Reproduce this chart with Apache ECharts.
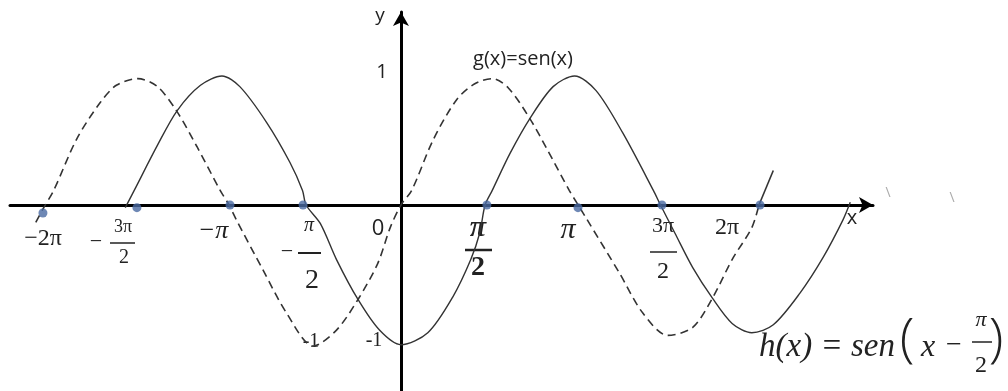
<!DOCTYPE html>
<html>
<head>
<meta charset="utf-8">
<script src="https://cdn.jsdelivr.net/npm/echarts@6/dist/echarts.min.js"></script>
<style>
html, body { margin: 0; padding: 0; background: #fff; }
#main { width: 1008px; height: 391px; }
</style>
</head>
<body>
<div id="main"></div>
<script>
// x in multiples of π, y in function units
var gX = [-2.04, -2.0, -1.94, -1.81, -1.68, -1.59, -1.47, -1.36, -1.25, -1.14, -1.01, -0.96, -0.92,
          -0.77, -0.64, -0.49, -0.36, -0.24, -0.13, -0.06, 0, 0.06, 0.18, 0.31, 0.41, 0.51, 0.60, 0.72,
          0.82, 0.94, 0.99, 1.04, 1.22, 1.35, 1.49, 1.63, 1.74, 1.85, 1.96, 2.0];
var gY = [-0.13, -0.03, 0.11, 0.50, 0.77, 0.90, 0.95, 0.89, 0.70, 0.44, 0.11, 0, -0.11,
          -0.49, -0.81, -1.06, -0.94, -0.71, -0.44, -0.17, 0, 0.11, 0.49, 0.79, 0.91, 0.95, 0.88, 0.65,
          0.41, 0.11, 0, -0.11, -0.51, -0.81, -0.98, -0.92, -0.70, -0.41, -0.17, 0];

var tailX = [2.0, 2.08];
var tailY = [0, 0.26];

var hX = [-1.54, -1.49, -1.36, -1.25, -1.12, -1.0, -0.90, -0.75, -0.62, -0.55, -0.53, -0.45, -0.36,
          -0.24, -0.12, 0, 0.15, 0.29, 0.39, 0.44, 0.47, 0.51, 0.61, 0.72, 0.85, 0.97, 1.09, 1.24,
          1.41, 1.45, 1.53, 1.63, 1.74, 1.85, 1.96, 2.08, 2.23, 2.36, 2.47, 2.51];
var hY = [-0.02, 0.11, 0.45, 0.71, 0.90, 0.97, 0.89, 0.62, 0.32, 0.11, 0, -0.14, -0.41,
          -0.71, -0.94, -1.05, -0.96, -0.69, -0.41, -0.21, 0, 0.11, 0.39, 0.65, 0.89, 0.97, 0.86, 0.54,
          0.11, 0, -0.21, -0.47, -0.70, -0.89, -0.96, -0.90, -0.66, -0.39, -0.11, 0.02];

// marked points on the x axis: -2π, -3π/2, -π, -π/2, π/2, π, 3π/2, 2π
var dotX = [-2.0, -1.475, -0.955, -0.547, 0.48, 0.989, 1.458, 2.006];
var dotY = [-0.06, -0.02, 0, 0, 0, -0.02, 0, 0];

function pairs(xs, ys) {
    return xs.map(function (x, i) { return [x, ys[i]]; });
}

var myChart = echarts.init(document.getElementById('main'));

var serif = '"Liberation Serif", "DejaVu Serif", serif';
var sans = '"Open Sans", "Liberation Sans", sans-serif';
var ink = '#222';

function txt(s, x, y, font, align) {
    return {
        type: 'text', x: x, y: y, silent: true,
        style: { text: s, font: font, fill: ink, align: align || 'center', verticalAlign: 'middle' }
    };
}
function bar(x1, x2, y, w) {
    return {
        type: 'rect', silent: true,
        shape: { x: x1, y: y - (w || 1.5) / 2, width: x2 - x1, height: w || 1.5 },
        style: { fill: ink }
    };
}

var labels = [
    txt('−2π', 43, 239, '24px ' + serif),
    txt('−', 96, 242, '22px ' + serif),
    txt('3π', 123, 227, '18px ' + serif),
    bar(110, 135, 243),
    txt('2', 124, 258, '20px ' + serif),
    txt('−π', 213, 231, 'italic 26px ' + serif),
    txt('π', 309, 226, 'italic 20px ' + serif),
    txt('−', 287, 252, '22px ' + serif),
    bar(298, 321, 253, 2),
    txt('2', 312, 281, '28px ' + serif),
    txt('0', 378, 229, '22px ' + sans),
    txt('π', 478, 228, 'italic bold 30px ' + serif),
    bar(465, 492, 250, 2.5),
    txt('2', 478, 268, 'bold 28px ' + serif),
    txt('π', 568, 230, 'italic 30px ' + serif),
    txt('3π', 663, 226, '22px ' + serif),
    bar(650, 677, 252),
    txt('2', 663, 272, '24px ' + serif),
    txt('2π', 727, 228, '24px ' + serif),
    txt('x', 852, 218, '20px ' + sans),
    txt('y', 380, 16, '19px ' + sans),
    txt('1', 382, 72, '20px ' + sans),
    txt('-1', 374, 341, '20px ' + serif),
    txt('-1', 311, 342, '20px ' + serif),
    txt('g(x)=sen(x)', 523, 59, '20px ' + sans),
    txt('h(x) = sen', 759, 347, 'italic 33px ' + serif, 'left'),
    txt('(', 907, 341, '300 54px ' + sans),
    txt('x', 928, 348, 'italic 32px ' + serif),
    txt('−', 954, 346, '28px ' + serif),
    txt('π', 981, 320, 'italic 22px ' + serif),
    bar(972, 992, 342),
    txt('2', 981, 366, '24px ' + serif),
    txt(')', 996, 341, '300 54px ' + sans),
    txt('\\', 888, 193, '14px ' + sans),
    txt('\\', 952, 198, '14px ' + sans)
];
// stray specks are lighter than the rest
labels[labels.length - 1].style.fill = '#aaa';
labels[labels.length - 2].style.fill = '#aaa';

var option = {
    animation: false,
    backgroundColor: '#fff',
    grid: { left: 10, right: 135, top: 12, bottom: 0 },
    xAxis: {
        type: 'value', min: -2.184, max: 2.637,
        axisLine: { onZero: true, symbol: ['none', 'arrow'], symbolSize: [12, 14],
                    lineStyle: { color: '#000', width: 3 } },
        axisTick: { show: false }, axisLabel: { show: false }, splitLine: { show: false }
    },
    yAxis: {
        type: 'value', min: -1.398, max: 1.451,
        axisLine: { onZero: true, symbol: ['none', 'arrow'], symbolSize: [12, 14],
                    lineStyle: { color: '#000', width: 3 } },
        axisTick: { show: false }, axisLabel: { show: false }, splitLine: { show: false }
    },
    series: [
        {
            name: 'g(x)', type: 'line', data: pairs(gX, gY), smooth: 0.3,
            symbol: 'none', lineStyle: { color: '#333', width: 1.6, type: [8, 5] }
        },
        {
            name: 'g tail', type: 'line', data: pairs(tailX, tailY), symbol: 'none',
            lineStyle: { color: '#333', width: 1.6 }
        },
        {
            name: 'h(x)', type: 'line', data: pairs(hX, hY), smooth: 0.3,
            symbol: 'none', lineStyle: { color: '#333', width: 1.4 }
        },
        {
            name: 'marks', type: 'scatter', data: pairs(dotX, dotY), symbolSize: 9, z: 5,
            itemStyle: { color: '#4a6aa3' }
        }
    ],
    graphic: labels
};

myChart.setOption(option);
</script>
</body>
</html>
